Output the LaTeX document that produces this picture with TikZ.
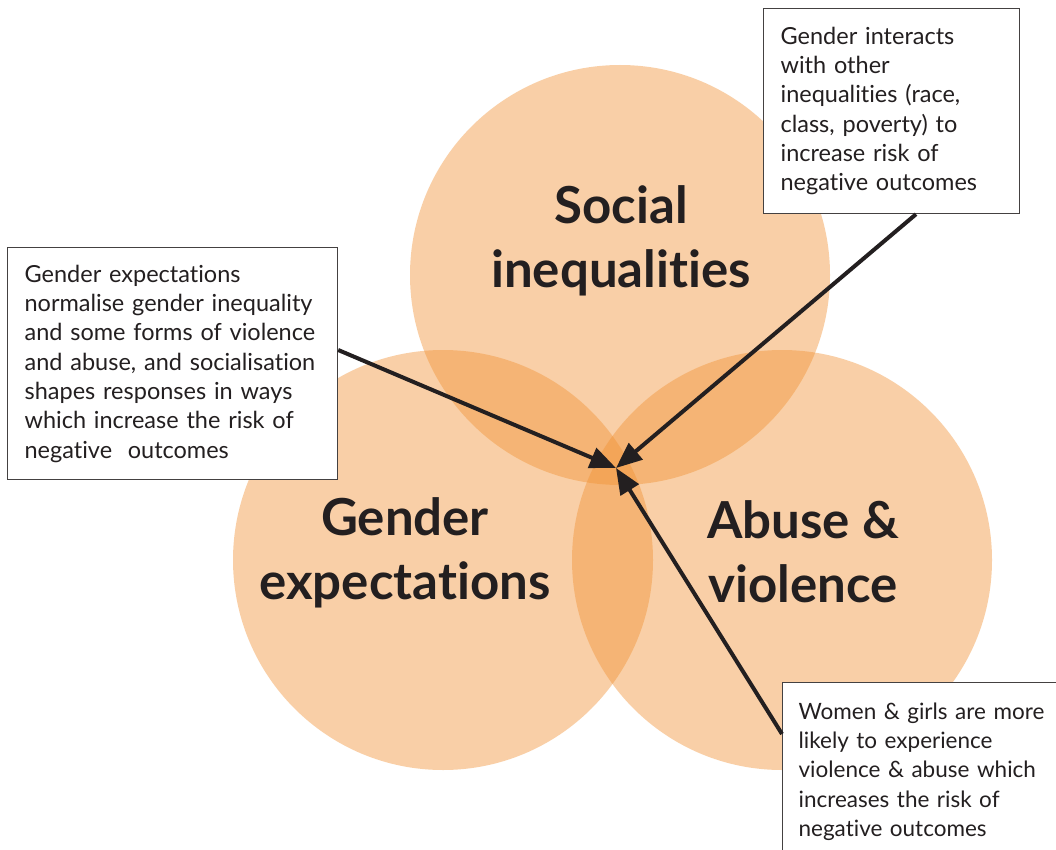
\documentclass[tikz,border=0pt]{standalone}
\usepackage{fontspec}
\setmainfont{Lato}[Ligatures = NoCommon]
\usetikzlibrary{arrows.meta}

\definecolor{ink}{RGB}{35,31,32}
\definecolor{peach}{RGB}{242,146,52}

\tikzset{
  ring/.style = {fill = peach, fill opacity = .43, draw = none},
  title/.style = {text = ink, align = center, font = \fontsize{51}{64}\selectfont\bfseries},
  note/.style = {
    draw = ink!85,
    line width = 1.2pt,
    fill = white,
    anchor = north west,
    align = left,
    text = ink,
    inner xsep = 17pt,
    font = \fontsize{23.5}{29.3}\selectfont,
  },
  pointer/.style = {ink, line width = 4pt, -{Triangle[length = 26pt, width = 21pt]}},
}

\begin{document}
\begin{tikzpicture} [
  x = 1pt,
  y = -1pt,
]
\clip (0, 0) rectangle (1056, 850);
\fill [white] (0, 0) rectangle (1056, 850);

% the three circles
\fill [ring] (620, 275) circle [radius = 210];
\fill [ring] (443, 560) circle [radius = 210];
\fill [ring] (782, 560) circle [radius = 210];

\node [title] (social) at (621, 241) {Social\\inequalities};
\node [title] (gender) at (405, 553) {Gender\\expectations};
\node [title] (abuse) at (803, 552) {Abuse \&\\violence};

% explanation boxes
\node [note, minimum width = 256, minimum height = 205, text width = 222] (tbox) at (763, 8)
  {Gender interacts\\with other\\inequalities (race,\\class, poverty) to\\increase risk of\\negative outcomes};
\node [note, minimum width = 330, minimum height = 232, text width = 296] (lbox) at (7, 247)
  {Gender expectations\\normalise gender inequality\\and some forms of violence\\and abuse, and socialisation\\shapes responses in ways\\which increase the risk of\\negative\ \ outcomes};
\node [note, minimum width = 320, minimum height = 178, text width = 288, inner xsep = 16pt,
  font = \fontsize{22.5}{29.3}\selectfont] (bbox) at (782, 682)
  {Women \& girls are more\\likely to experience\\violence \& abuse which\\increases the risk of\\negative outcomes};

% arrows to the centre
\coordinate (hub) at (616, 468);
\draw [pointer] ([yshift = -103pt] lbox.north east) -- (hub);
\draw [pointer] ([xshift = 153pt] tbox.south west) -- (hub);
\draw [pointer] ([yshift = -52pt] bbox.north west) -- (hub);
\end{tikzpicture}
\end{document}
